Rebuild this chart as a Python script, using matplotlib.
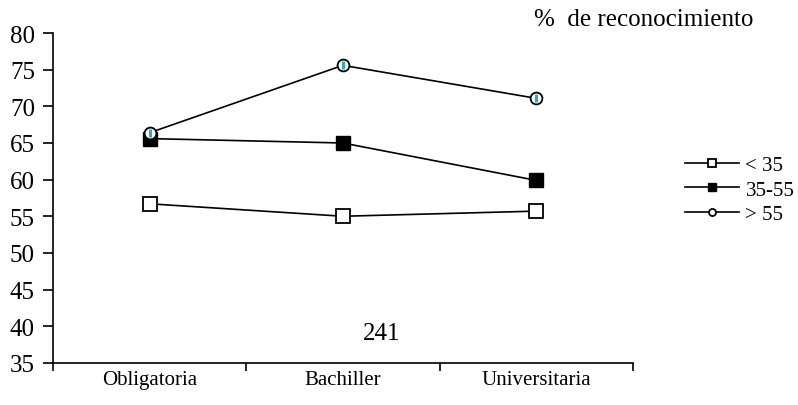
import matplotlib
matplotlib.use("Agg")
import matplotlib.pyplot as plt

plt.rcParams["font.family"] = ["Liberation Serif", "DejaVu Serif"]

# ── data ────────────────────────────────────────────────────────────────────
categories = ["Obligatoria", "Bachiller", "Universitaria"]
menos_35 = [56.7, 55.0, 55.7]
entre_35_55 = [65.6, 65.0, 59.9]
mas_55 = [66.4, 75.6, 71.1]
series_labels = ["< 35", "35-55", "> 55"]
y_ticks = [35, 40, 45, 50, 55, 60, 65, 70, 75, 80]

# ── figure ──────────────────────────────────────────────────────────────────
fig = plt.figure(figsize=(7.98, 4.06), dpi=100)
ax = fig.add_axes([0.0664, 0.104, 0.7266, 0.812])

x = list(range(len(categories)))
ax.plot(x, menos_35, color="black", lw=1.2, marker="s", ms=9.5,
        mfc="white", mec="black", mew=1.3, label=series_labels[0], zorder=3)
ax.plot(x, entre_35_55, color="black", lw=1.2, marker="s", ms=9.5,
        mfc="black", mec="black", label=series_labels[1], zorder=3)
ax.plot(x, mas_55, color="black", lw=1.2, marker="o", ms=8.5,
        mfc="white", mec="black", mew=1.3, label=series_labels[2], zorder=4)
# teal stripe inside the circles
ax.plot(x, mas_55, ls="none", marker="|", ms=6, mew=2.2, color="#2bb0b0", zorder=5)

ax.set_xlim(-0.5, len(categories) - 0.5)
ax.set_ylim(35, 80)
ax.set_yticks(y_ticks)
ax.set_xticks(x)
ax.set_xticklabels(categories, fontsize=15)
ax.set_xticks([i - 0.5 for i in range(len(categories) + 1)], minor=True)
ax.tick_params(axis="x", which="major", length=0, pad=5)
ax.tick_params(axis="x", which="minor", length=6, width=1.2, direction="out")
ax.tick_params(axis="y", length=7, width=1.2, direction="out", labelsize=18, pad=6)

for side in ("top", "right"):
    ax.spines[side].set_visible(False)
for side in ("left", "bottom"):
    ax.spines[side].set_linewidth(1.2)

ax.text(1.2, 39.0, "241", fontsize=18, ha="center", va="center")
fig.text(0.944, 0.95, "%  de reconocimiento", fontsize=18, ha="right", va="center")

leg = fig.legend(loc="center left", bbox_to_anchor=(0.835, 0.53), frameon=False,
                 fontsize=15, markerscale=0.6, handlelength=2.6,
                 handletextpad=0.3, labelspacing=0.25)

fig.savefig("out.png", dpi=100)
